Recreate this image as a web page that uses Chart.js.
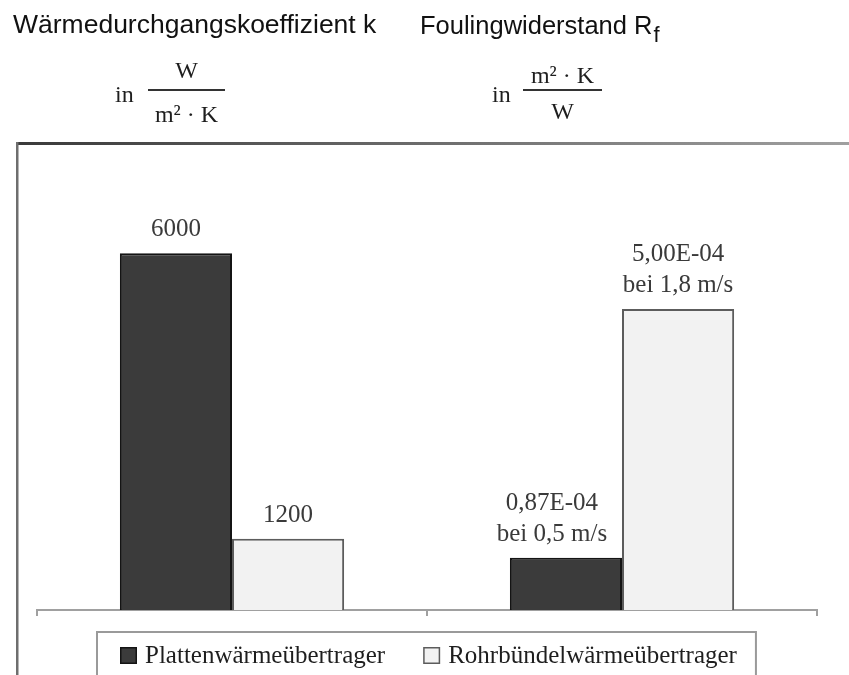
<!DOCTYPE html>
<html lang="de">
<head>
<meta charset="utf-8">
<title>Wärmedurchgangskoeffizient und Foulingwiderstand</title>
<script src="https://cdn.jsdelivr.net/npm/chart.js@4.4.0/dist/chart.umd.min.js"></script>
<style>
  body { margin: 0; background: #fff; }
  #wrap { position: relative; width: 849px; height: 675px; overflow: hidden; }
  #grafico { position: absolute; left: 0; top: 0; }
  .cab { position: absolute; font-family: "Liberation Sans", Arial, sans-serif; font-size: 26.5px; line-height: 26px; color: #111; white-space: nowrap; }
  .serif { position: absolute; font-family: "Liberation Serif", "Times New Roman", serif; font-size: 24px; line-height: 23px; color: #1e1e1e; white-space: nowrap; }
  .centro { text-align: center; }
  .traco { position: absolute; height: 2px; background: #333; }
</style>
</head>
<body>
<div id="wrap">
  <canvas id="grafico" width="849" height="675"></canvas>

  <div class="cab" style="left:13px; top:11px">Wärmedurchgangskoeffizient k</div>
  <div class="cab" style="left:420px; top:12px; font-size:25.5px">Foulingwiderstand R<span style="font-size:22px; position:relative; top:8px; left:1px">f</span></div>

  <!-- unidade k -->
  <div class="serif" style="left:115px; top:83px">in</div>
  <div class="serif centro" style="left:148px; top:59px; width:77px">W</div>
  <div class="traco" style="left:148px; top:89px; width:77px"></div>
  <div class="serif centro" style="left:148px; top:103px; width:77px">m² · K</div>

  <!-- unidade Rf -->
  <div class="serif" style="left:492px; top:83px">in</div>
  <div class="serif centro" style="left:523px; top:64px; width:79px">m² · K</div>
  <div class="traco" style="left:523px; top:89px; width:79px"></div>
  <div class="serif centro" style="left:523px; top:100px; width:79px">W</div>
</div>

<script>
// dados
const categorias = ['Wärmedurchgangskoeffizient k', 'Foulingwiderstand Rf'];
const tipos = ['Plattenwärmeübertrager', 'Rohrbündelwärmeübertrager'];
const valoresK = [6000, 1200];          // W/(m²·K)
const valoresRf = [0.87e-4, 5.00e-4];   // m²·K/W
const rotulosK = [['6000'], ['1200']];
const rotulosRf = [['0,87E-04', 'bei 0,5 m/s'], ['5,00E-04', 'bei 1,8 m/s']];

const coresFundo = ['#3b3b3b', '#f2f2f2'];
const coresBorda = ['#141414', '#5c5c5c'];

// k e Rf têm escalas próprias, cada par de barras fica num grupo
var conjuntos = [
  { label: tipos[0], data: [valoresK[0], null], rotulos: [rotulosK[0], null], yAxisID: 'yK',
    backgroundColor: coresFundo[0], borderColor: coresBorda[0] },
  { label: tipos[1], data: [valoresK[1], null], rotulos: [rotulosK[1], null], yAxisID: 'yK',
    backgroundColor: coresFundo[1], borderColor: coresBorda[1] },
  { label: tipos[0], data: [null, valoresRf[0]], rotulos: [null, rotulosRf[0]], yAxisID: 'yRf',
    backgroundColor: coresFundo[0], borderColor: coresBorda[0] },
  { label: tipos[1], data: [null, valoresRf[1]], rotulos: [null, rotulosRf[1]], yAxisID: 'yRf',
    backgroundColor: coresFundo[1], borderColor: coresBorda[1] }
];

// moldura cinza (linha superior e esquerda)
const pluginMoldura = {
  id: 'moldura',
  beforeDraw(chart) {
    const ctx = chart.ctx;
    ctx.save();
    ctx.fillStyle = '#fff';
    ctx.fillRect(0, 0, chart.width, chart.height);
    const grad = ctx.createLinearGradient(17, 0, chart.width, 0);
    grad.addColorStop(0, '#3a3a3a');
    grad.addColorStop(1, '#a0a0a0');
    ctx.fillStyle = grad;
    ctx.fillRect(17, 142, chart.width - 17, 3);
    ctx.fillStyle = '#6e6e6e';
    ctx.fillRect(16, 142, 2.5, chart.height - 142);
    ctx.restore();
  }
};

// textos acima das barras
const pluginRotulos = {
  id: 'rotulos',
  afterDatasetsDraw(chart) {
    const ctx = chart.ctx;
    ctx.save();
    ctx.font = '25px "Liberation Serif", "Times New Roman", serif';
    ctx.fillStyle = '#3a3a3a';
    ctx.textAlign = 'center';
    ctx.textBaseline = 'alphabetic';
    chart.data.datasets.forEach(function (ds, i) {
      chart.getDatasetMeta(i).data.forEach(function (barra, j) {
        if (ds.data[j] === null) return;
        const linhas = ds.rotulos[j];
        // o rótulo da barra baixa do Rf fica um pouco à esquerda no original
        const dx = (i === 2) ? -14 : 0;
        linhas.forEach(function (linha, n) {
          ctx.fillText(linha, barra.x + dx, barra.y - 17 - (linhas.length - 1 - n) * 31);
        });
      });
    });
    ctx.restore();
  }
};

// legenda com caixa, embaixo
const pluginLegenda = {
  id: 'legenda',
  afterDraw(chart) {
    const ctx = chart.ctx;
    ctx.save();
    ctx.font = '25px "Liberation Serif", "Times New Roman", serif';
    ctx.textBaseline = 'alphabetic';
    let x = 120;
    tipos.forEach(function (tipo, i) {
      ctx.fillStyle = coresFundo[i];
      ctx.fillRect(x, 647, 17, 17);
      ctx.strokeStyle = coresBorda[i];
      ctx.lineWidth = 1.5;
      ctx.strokeRect(x + 0.75, 647.75, 15.5, 15.5);
      ctx.fillStyle = '#1e1e1e';
      ctx.fillText(tipo, x + 25, 663);
      x += 25 + ctx.measureText(tipo).width + 38;
    });
    const fim = x - 38 + 19;
    ctx.strokeStyle = '#9a9a9a';
    ctx.lineWidth = 2;
    ctx.strokeRect(97, 632, fim - 97, 60);
    ctx.restore();
  }
};

var ctx1 = document.getElementById('grafico').getContext('2d');
var grafico = new Chart(ctx1, {
  type: 'bar',
  data: { labels: categorias, datasets: conjuntos },
  options: {
    responsive: false,
    animation: false,
    layout: { padding: { left: 37, right: 32, top: 164, bottom: 59 } },
    datasets: {
      bar: { skipNull: true, barPercentage: 1, categoryPercentage: 0.575, borderWidth: 2 }
    },
    plugins: {
      legend: { display: false },
      tooltip: { enabled: false }
    },
    scales: {
      x: {
        offset: true,
        grid: { display: true, offset: true, drawOnChartArea: false, drawTicks: true, tickLength: 6, color: '#a0a0a0', lineWidth: 2 },
        border: { display: true, color: '#a0a0a0', width: 2 },
        ticks: { display: false }
      },
      yK: { type: 'linear', display: false, min: 0, max: 7500 },
      yRf: { type: 'linear', display: false, min: 0, max: 7.41e-4 }
    }
  },
  plugins: [pluginMoldura, pluginRotulos, pluginLegenda]
});
</script>
</body>
</html>
